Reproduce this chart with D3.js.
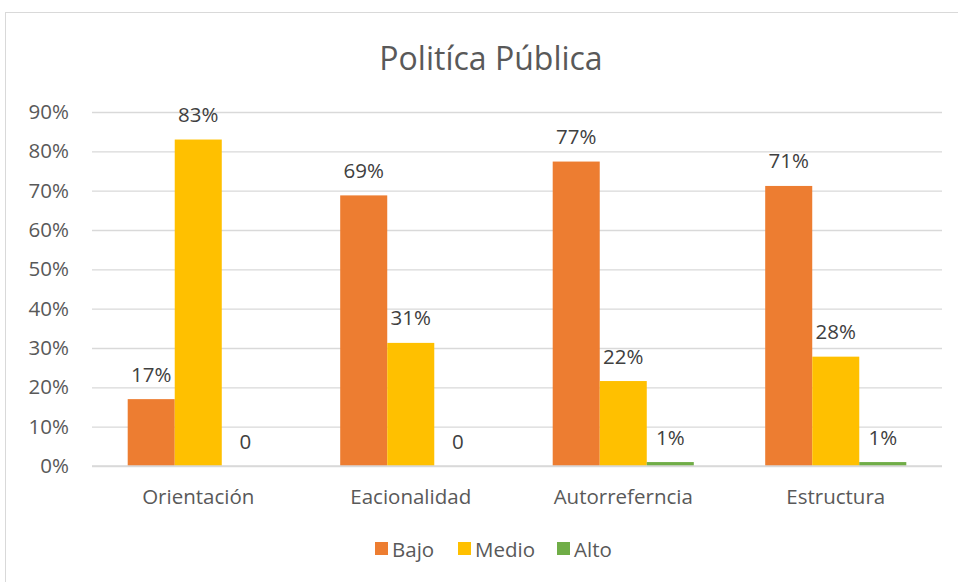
<!DOCTYPE html>
<html>
<head>
<meta charset="utf-8">
<script src="https://cdn.jsdelivr.net/npm/d3@7"></script>
<style>
  body { margin: 0; background: #fff; }
  text { font-family: "Open Sans", "Noto Sans", sans-serif; }
</style>
</head>
<body>
<script>
var categories = ["Orientación", "Eacionalidad", "Autorreferncia", "Estructura"];
var seriesNames = ["Bajo", "Medio", "Alto"];
var bajo = [0.17, 0.688, 0.774, 0.712];
var medio = [0.83, 0.313, 0.216, 0.278];
var alto = [0, 0, 0.01, 0.01];
var bajoLabels = ["17%", "69%", "77%", "71%"];
var medioLabels = ["83%", "31%", "22%", "28%"];
var altoLabels = ["0", "0", "1%", "1%"];
var yTicks = [0, 0.1, 0.2, 0.3, 0.4, 0.5, 0.6, 0.7, 0.8, 0.9];
var colors = ["#ED7D31", "#FFC000", "#70AD47"];

var width = 958, height = 582;
var margin = { left: 92, right: 16, top: 112, bottom: 116 };

var svg = d3.select("body").append("svg")
  .attr("width", width)
  .attr("height", height);

// chart border
svg.append("rect")
  .attr("x", 5.5).attr("y", 12.5)
  .attr("width", 970).attr("height", 590)
  .attr("fill", "#fff")
  .attr("stroke", "#D9D9D9");

svg.append("text")
  .attr("x", 491).attr("y", 70)
  .attr("text-anchor", "middle")
  .attr("font-size", 32)
  .attr("fill", "#595959")
  .text("Politíca Pública");

var x0 = d3.scaleBand()
  .domain(categories)
  .range([margin.left, width - margin.right])
  .paddingInner(0.336)
  .paddingOuter(0.168);

var x1 = d3.scaleBand()
  .domain(seriesNames)
  .range([0, x0.bandwidth()]);

var y = d3.scaleLinear()
  .domain([0, 0.9])
  .range([height - margin.bottom, margin.top]);

// gridlines
var grid = d3.axisLeft(y)
  .tickValues(yTicks)
  .tickSize(-(width - margin.left - margin.right))
  .tickFormat("");
svg.append("g")
  .attr("transform", "translate(" + margin.left + ",0)")
  .call(grid)
  .call(g => g.select(".domain").remove())
  .selectAll("line")
  .attr("stroke", "#D9D9D9")
  .attr("stroke-width", 1.3);

// y axis labels
var yAxis = d3.axisLeft(y)
  .tickValues(yTicks)
  .tickSize(0)
  .tickPadding(23)
  .tickFormat(d3.format(".0%"));
svg.append("g")
  .attr("transform", "translate(" + margin.left + ",0)")
  .call(yAxis)
  .call(g => g.select(".domain").remove())
  .selectAll("text")
  .attr("font-size", 20.5)
  .attr("fill", "#595959");

// x axis labels
var xAxis = d3.axisBottom(x0).tickSize(0).tickPadding(23);
svg.append("g")
  .attr("transform", "translate(0," + (height - margin.bottom) + ")")
  .call(xAxis)
  .call(g => g.select(".domain").remove())
  .selectAll("text")
  .attr("font-size", 20.5)
  .attr("fill", "#595959");

var series = [
  { name: "Bajo", values: bajo, labels: bajoLabels },
  { name: "Medio", values: medio, labels: medioLabels },
  { name: "Alto", values: alto, labels: altoLabels }
];

series.forEach(function (s, si) {
  var g = svg.append("g");
  g.selectAll("rect")
    .data(s.values)
    .enter()
    .append("rect")
    .attr("x", (d, i) => x0(categories[i]) + x1(s.name))
    .attr("y", d => y(d))
    .attr("width", x1.bandwidth())
    .attr("height", d => y(0) - y(d))
    .attr("fill", colors[si]);
  g.selectAll("text")
    .data(s.values)
    .enter()
    .append("text")
    .attr("x", (d, i) => x0(categories[i]) + x1(s.name) + x1.bandwidth() / 2)
    .attr("y", d => y(d) - 17.5)
    .attr("text-anchor", "middle")
    .attr("font-size", 20.5)
    .attr("fill", "#404040")
    .text((d, i) => s.labels[i]);
});

// baseline axis line
svg.append("line")
  .attr("x1", margin.left).attr("x2", width - margin.right)
  .attr("y1", y(0)).attr("y2", y(0))
  .attr("stroke", "#D9D9D9")
  .attr("stroke-width", 1.3);

// legend
var legendX = [375, 458, 557];
var legend = svg.append("g");
seriesNames.forEach(function (name, i) {
  legend.append("rect")
    .attr("x", legendX[i]).attr("y", 542)
    .attr("width", 13).attr("height", 13)
    .attr("fill", colors[i]);
  legend.append("text")
    .attr("x", legendX[i] + 17).attr("y", 557)
    .attr("font-size", 20.5)
    .attr("fill", "#595959")
    .text(name);
});
</script>
</body>
</html>
